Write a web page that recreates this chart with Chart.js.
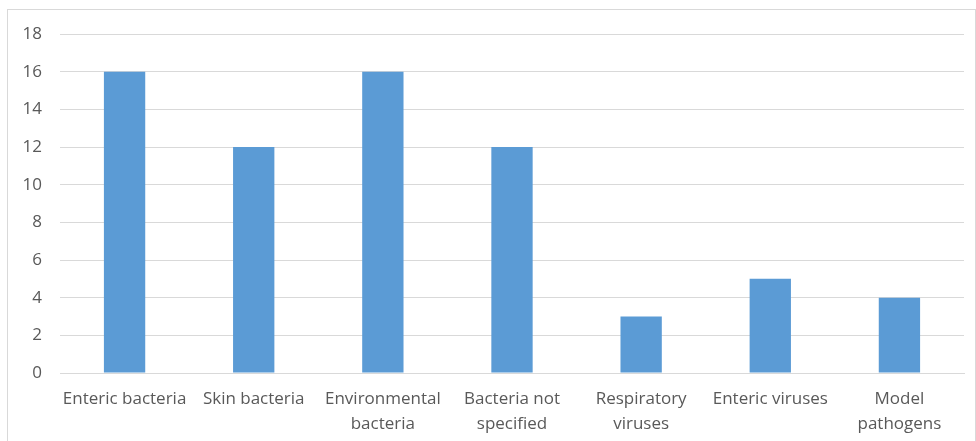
<!DOCTYPE html>
<html>
<head>
<meta charset="utf-8">
<script src="https://cdn.jsdelivr.net/npm/chart.js@4/dist/chart.umd.min.js"></script>
<style>
  html, body { margin: 0; padding: 0; background: #fff; }
  #wrap { position: relative; width: 976px; height: 441px; }
</style>
</head>
<body>
<div id="wrap"><canvas id="c" width="976" height="441"></canvas></div>
<script>
// Pathogen groups and number of studies per group
const categories = [
  'Enteric bacteria',
  'Skin bacteria',
  ['Environmental', 'bacteria'],
  ['Bacteria not', 'specified'],
  ['Respiratory', 'viruses'],
  'Enteric viruses',
  ['Model', 'pathogens']
];
const counts = [16, 12, 16, 12, 3, 5, 4];
const yTicks = [0, 2, 4, 6, 8, 10, 12, 14, 16, 18];

// Light grey frame around the whole chart
const framePlugin = {
  id: 'frame',
  beforeDraw(chart) {
    const ctx = chart.ctx;
    ctx.save();
    ctx.fillStyle = '#ffffff';
    ctx.fillRect(0, 0, chart.width, chart.height);
    ctx.strokeStyle = '#d9d9d9';
    ctx.lineWidth = 1;
    ctx.strokeRect(7.5, 9.5, chart.width - 8, chart.height - 8);
    ctx.restore();
  }
};

new Chart(document.getElementById('c'), {
  type: 'bar',
  data: {
    labels: categories,
    datasets: [{
      data: counts,
      backgroundColor: '#5b9bd5',
      borderWidth: 0,
      barPercentage: 0.32,
      categoryPercentage: 1.0
    }]
  },
  options: {
    responsive: false,
    animation: false,
    devicePixelRatio: 1,
    layout: { padding: { left: 0, right: 12, top: 34, bottom: 0 } },
    plugins: { legend: { display: false }, tooltip: { enabled: false } },
    scales: {
      x: {
        grid: { display: false, drawTicks: false },
        border: { display: true, color: '#d9d9d9', width: 1 },
        ticks: {
          color: '#595959',
          font: { family: 'Open Sans', size: 17, lineHeight: 1.45 },
          padding: 14,
          maxRotation: 0,
          autoSkip: false
        },
        afterFit(scale) { scale.height = 68; }
      },
      y: {
        min: 0,
        max: 18,
        afterBuildTicks(scale) { scale.ticks = yTicks.map(v => ({ value: v })); },
        grid: { color: '#d9d9d9', lineWidth: 1, drawTicks: false },
        border: { display: false },
        ticks: {
          color: '#595959',
          font: { family: 'Open Sans', size: 17 },
          padding: 18
        },
        afterFit(scale) { scale.width = 60; }
      }
    }
  },
  plugins: [framePlugin]
});
</script>
</body>
</html>
